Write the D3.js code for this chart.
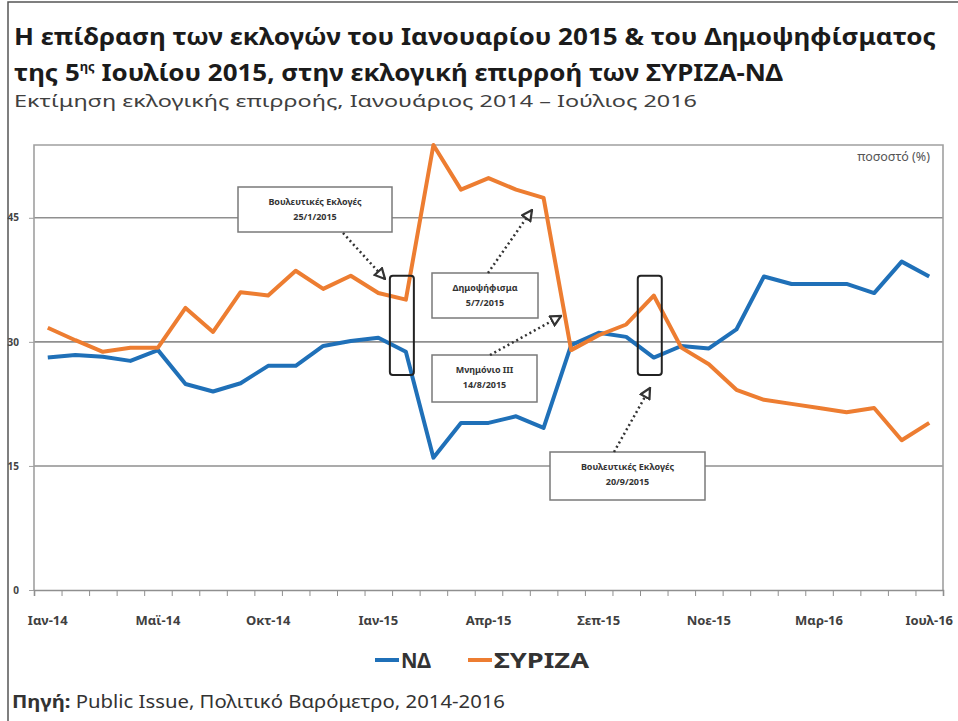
<!DOCTYPE html>
<html>
<head>
<meta charset="utf-8">
<script src="https://cdn.jsdelivr.net/npm/d3@7"></script>
<style>
  body { margin: 0; background: #fff; }
  svg { display: block; font-family: "Noto Sans", "Open Sans", sans-serif; }
</style>
</head>
<body>
<svg id="chart" width="958" height="721"></svg>
<script>
// survey waves, only every 4th label shows on the axis
const categories = [
  "Ιαν-14","Φεβ-14","Μαρ-14","Απρ-14","Μαϊ-14","Ιουν-14","Ιουλ-14","Σεπ-14",
  "Οκτ-14","Νοε-14","Δεκ-14","Δεκ-14","Ιαν-15","Ιαν-15","Φεβ-15","Μαρ-15",
  "Απρ-15","Μαϊ-15","Ιουν-15","Ιουλ-15","Σεπ-15","Σεπ-15","Σεπ-15","Οκτ-15",
  "Νοε-15","Δεκ-15","Ιαν-16","Φεβ-16","Μαρ-16","Απρ-16","Μαϊ-16","Ιουν-16","Ιουλ-16"
];
const ndValues = [
  28.1, 28.4, 28.2, 27.7, 29.0, 24.9, 24.0, 25.0,
  27.1, 27.1, 29.5, 30.1, 30.5, 28.8, 16.0, 20.2,
  20.2, 21.0, 19.6, 29.6, 31.1, 30.6, 28.1, 29.5,
  29.2, 31.5, 37.9, 37.0, 37.0, 37.0, 35.9, 39.7, 37.9
];
const syrizaValues = [
  31.7, 30.2, 28.8, 29.3, 29.3, 34.1, 31.2, 36.0,
  35.6, 38.6, 36.4, 38.0, 35.9, 35.1, 53.8, 48.4,
  49.8, 48.4, 47.4, 29.0, 30.8, 32.1, 35.6, 29.3,
  27.3, 24.2, 23.0, 22.5, 22.0, 21.5, 22.0, 18.1, 20.2
];
const yTicks = [0, 15, 30, 45];
const seriesNames = ["ΝΔ", "ΣΥΡΙΖΑ"];
const seriesColors = ["#1f70b8", "#ed7d31"];

const svg = d3.select("#chart");
const pLeft = 34, pRight = 943, pTop = 145, pBottom = 590;

const xEdge = d3.scaleLinear().domain([0, categories.length]).range([pLeft, pRight]);
const xPt = i => xEdge(i + 0.5);
const y = d3.scaleLinear().domain([0, 53.8]).range([pBottom, pTop]);

// outer frame
svg.append("path")
  .attr("d", "M8,721 L8,2 L958,2")
  .attr("fill", "none").attr("stroke", "#555").attr("stroke-width", 1.5);

// titles
svg.append("text")
  .attr("x", 14).attr("y", 45)
  .attr("font-size", 24).attr("font-weight", "bold").attr("fill", "#1b1b1b")
  .attr("textLength", 922).attr("lengthAdjust", "spacingAndGlyphs")
  .text("Η επίδραση των εκλογών του Ιανουαρίου  2015  & του Δημοψηφίσματος");
const t2 = svg.append("text")
  .attr("x", 14).attr("y", 81)
  .attr("font-size", 24).attr("font-weight", "bold").attr("fill", "#1b1b1b")
  .attr("textLength", 769).attr("lengthAdjust", "spacingAndGlyphs");
t2.append("tspan").text("της 5");
t2.append("tspan").attr("font-size", 12).attr("dy", -10).text("ης");
t2.append("tspan").attr("dy", 10).text(" Ιουλίου 2015,  στην εκλογική  επιρροή των ΣΥΡΙΖΑ-ΝΔ");
svg.append("text")
  .attr("x", 14).attr("y", 107)
  .attr("font-size", 16).attr("fill", "#404040")
  .attr("textLength", 683).attr("lengthAdjust", "spacingAndGlyphs")
  .text("Εκτίμηση εκλογικής επιρροής, Ιανουάριος 2014 – Ιούλιος 2016");

// plot area
const plot = svg.append("g");
plot.selectAll("line.grid")
  .data(yTicks.filter(d => d > 0))
  .enter().append("line")
  .attr("class", "grid")
  .attr("x1", pLeft).attr("x2", pRight)
  .attr("y1", d => y(d)).attr("y2", d => y(d))
  .attr("stroke", "#8f8f8f").attr("stroke-width", 1.6);
plot.append("path")
  .attr("d", `M${pLeft},${pBottom} L${pLeft},${pTop} L${pRight},${pTop} L${pRight},${pBottom}`)
  .attr("fill", "none").attr("stroke", "#a0a0a0").attr("stroke-width", 1.6);

// y axis labels + little ticks
const yAxis = svg.append("g")
  .attr("transform", `translate(${pLeft},0)`)
  .call(d3.axisLeft(y).tickValues(yTicks).tickSize(5).tickPadding(10));
yAxis.select(".domain").remove();
yAxis.selectAll("line").attr("stroke", "#a0a0a0");
yAxis.selectAll("text")
  .attr("font-size", 10).attr("font-weight", "bold").attr("fill", "#444")
  .attr("font-family", "Noto Sans, sans-serif");

// x axis: ticks at category edges, labels every 4th wave
const xAxis = svg.append("g")
  .attr("transform", `translate(0,${pBottom})`)
  .call(d3.axisBottom(xEdge).tickValues(d3.range(categories.length + 1)).tickSize(6).tickFormat(""));
xAxis.select(".domain").attr("stroke", "#8f8f8f").attr("stroke-width", 1.6);
xAxis.selectAll("line").attr("stroke", "#8f8f8f");
svg.append("g").selectAll("text")
  .data(d3.range(0, categories.length, 4))
  .enter().append("text")
  .attr("x", d => xPt(d)).attr("y", 625)
  .attr("text-anchor", "middle")
  .attr("font-size", 13).attr("font-weight", "bold").attr("fill", "#404040")
  .text(d => categories[d]);

svg.append("text")
  .attr("x", 930).attr("y", 161).attr("text-anchor", "end")
  .attr("font-size", 12.5).attr("fill", "#555")
  .text("ποσοστό (%)");

// lines
const line = d3.line().x((d, i) => xPt(i)).y(d => y(d));
[ndValues, syrizaValues].forEach((vals, k) => {
  svg.append("path")
    .datum(vals)
    .attr("d", line)
    .attr("fill", "none")
    .attr("stroke", seriesColors[k])
    .attr("stroke-width", 4)
    .attr("stroke-linejoin", "round");
});

// annotations
svg.append("defs").append("marker")
  .attr("id", "head")
  .attr("viewBox", "0 0 10 10").attr("refX", 9).attr("refY", 5)
  .attr("markerWidth", 5).attr("markerHeight", 5)
  .attr("orient", "auto")
  .append("path")
  .attr("d", "M1,1 L9,5 L1,9 Z")
  .attr("fill", "#fff").attr("stroke", "#333").attr("stroke-width", 1.8);

const highlights = [13, 22];
svg.selectAll("rect.hl")
  .data(highlights)
  .enter().append("rect")
  .attr("class", "hl")
  .attr("x", d => xPt(d) - 16).attr("width", 24)
  .attr("y", y(38)).attr("height", y(26) - y(38))
  .attr("rx", 3)
  .attr("fill", "none").attr("stroke", "#222").attr("stroke-width", 2);

const notes = [
  { lines: ["Βουλευτικές Εκλογές", "25/1/2015"], box: [238, 187, 154, 45], from: [343, 233], to: [385, 279] },
  { lines: ["Δημοψήφισμα", "5/7/2015"], box: [432, 273, 106, 45], from: [488, 273], to: [532, 210] },
  { lines: ["Μνημόνιο ΙΙΙ", "14/8/2015"], box: [432, 355, 105, 47], from: [490, 355], to: [561, 316] },
  { lines: ["Βουλευτικές Εκλογές", "20/9/2015"], box: [550, 452, 155, 48], from: [614, 452], to: [650, 388] }
];
notes.forEach(n => {
  const [bx, by, bw, bh] = n.box;
  svg.append("rect")
    .attr("x", bx).attr("y", by).attr("width", bw).attr("height", bh)
    .attr("fill", "#fff").attr("stroke", "#7a7a7a").attr("stroke-width", 1.5);
  n.lines.forEach((l, j) => {
    svg.append("text")
      .attr("x", bx + bw / 2).attr("y", by + 18 + j * 15)
      .attr("text-anchor", "middle")
      .attr("font-size", 9).attr("font-weight", "bold").attr("fill", "#333")
      .text(l);
  });
  svg.append("line")
    .attr("x1", n.from[0]).attr("y1", n.from[1])
    .attr("x2", n.to[0]).attr("y2", n.to[1])
    .attr("stroke", "#333").attr("stroke-width", 2.5)
    .attr("stroke-dasharray", "2,3")
    .attr("marker-end", "url(#head)");
});

// legend
const legend = svg.append("g").attr("transform", "translate(375,660)");
const legendWidths = [30, 95];
seriesNames.forEach((name, k) => {
  const g = legend.append("g").attr("transform", `translate(${k * 93},0)`);
  g.append("line").attr("x1", 0).attr("x2", 24).attr("y1", 0).attr("y2", 0)
    .attr("stroke", seriesColors[k]).attr("stroke-width", 4);
  g.append("text").attr("x", 26).attr("y", 8)
    .attr("font-size", 21).attr("font-weight", "bold").attr("fill", "#333")
    .attr("textLength", legendWidths[k]).attr("lengthAdjust", "spacingAndGlyphs")
    .text(name);
});

// source
const src = svg.append("text")
  .attr("x", 12).attr("y", 708)
  .attr("font-size", 18).attr("fill", "#333")
  .attr("textLength", 493).attr("lengthAdjust", "spacingAndGlyphs");
src.append("tspan").attr("font-weight", "bold").text("Πηγή:");
src.append("tspan").text(" Public Issue, Πολιτικό Βαρόμετρο, 2014-2016");
</script>
</body>
</html>
